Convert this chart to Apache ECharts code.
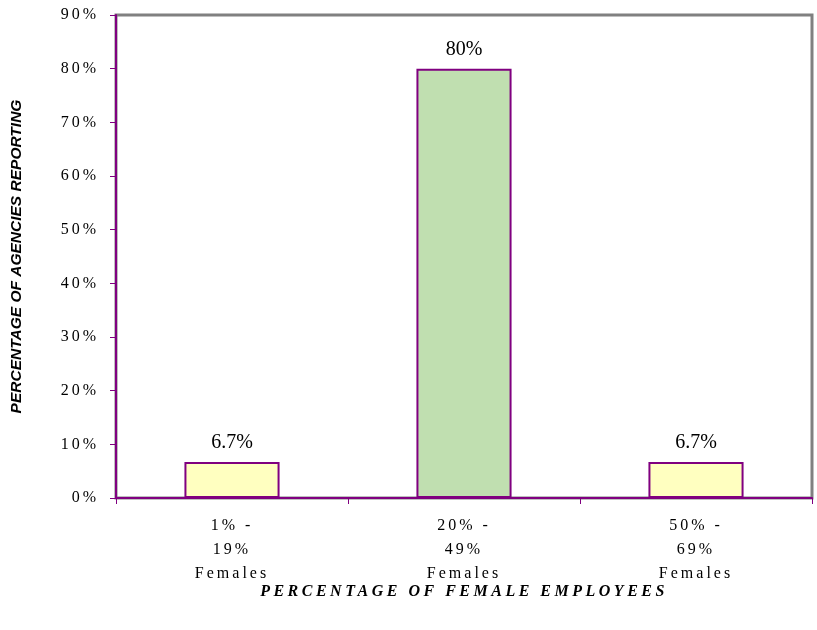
<!DOCTYPE html>
<html>
<head>
<meta charset="utf-8">
<script src="https://cdn.jsdelivr.net/npm/echarts@6/dist/echarts.min.js"></script>
<style>html,body{margin:0;padding:0;background:#fff;}#c{width:817px;height:630px;}</style>
</head>
<body>
<div id="c"></div>
<script>
const categories = ['1% -\n19%\nFemales', '20% -\n49%\nFemales', '50% -\n69%\nFemales'];
const values = [6.7, 80, 6.7];
const valueLabels = ['6.7%', '80%', '6.7%'];
const barColors = ['#FFFFC0', '#C0DFB0', '#FFFFC0'];
const yTicks = { min: 0, max: 90, interval: 10 };

// Letter-spaced serif text (as in the reference) for axis texts
(function () {
  const proto = CanvasRenderingContext2D.prototype;
  const orig = proto.fillText;
  proto.fillText = function (t, x, y, w) {
    const f = this.font || '';
    let ls = '0px';
    if (f.indexOf('Liberation Serif') >= 0 && !/20px/.test(f)) {
      ls = /bold|700/.test(f) ? '3.5px' : '3px';
    }
    if ('letterSpacing' in this) this.letterSpacing = ls;
    const r = w === undefined ? orig.call(this, t, x, y) : orig.call(this, t, x, y, w);
    if ('letterSpacing' in this) this.letterSpacing = '0px';
    return r;
  };
})();

const chart = echarts.init(document.getElementById('c'), null, { renderer: 'canvas' });
const serif = '"Liberation Serif", serif';
chart.setOption({
  animation: false,
  backgroundColor: '#fff',
  grid: { left: 116, right: 5, top: 15, bottom: 132, show: true, borderColor: '#808080', borderWidth: 3, backgroundColor: 'transparent' },
  xAxis: {
    type: 'category',
    data: categories,
    name: 'PERCENTAGE OF FEMALE EMPLOYEES',
    nameLocation: 'middle',
    nameGap: 86,
    nameMoveOverlap: false,
    nameTextStyle: { fontFamily: serif, fontWeight: 'bold', fontStyle: 'italic', fontSize: 16, color: '#000' },
    axisLine: { lineStyle: { color: '#800080', width: 2 } },
    axisTick: { show: true, alignWithLabel: false, length: 6, lineStyle: { color: '#800080', width: 1 } },
    axisLabel: { fontFamily: serif, fontSize: 16, color: '#000', lineHeight: 24, margin: 16 },
    splitLine: { show: false }
  },
  yAxis: {
    type: 'value',
    min: yTicks.min, max: yTicks.max, interval: yTicks.interval,
    name: 'PERCENTAGE OF AGENCIES REPORTING',
    nameLocation: 'middle',
    nameRotate: 90,
    nameGap: 91,
    nameMoveOverlap: false,
    nameTextStyle: { fontFamily: '"Liberation Sans", Arial, sans-serif', fontWeight: 'bold', fontStyle: 'italic', fontSize: 15.5, color: '#000' },
    axisLine: { show: true, lineStyle: { color: '#800080', width: 2 } },
    axisTick: { show: true, length: 6, lineStyle: { color: '#800080', width: 1 } },
    axisLabel: { formatter: '{value}%', fontFamily: serif, fontSize: 16, color: '#000', margin: 17 },
    splitLine: { show: false }
  },
  series: [{
    type: 'bar',
    barWidth: '41%',
    data: values.map((v, i) => ({ value: v, itemStyle: { color: barColors[i] } })),
    itemStyle: { borderColor: '#800080', borderWidth: 2 },
    label: {
      show: true, position: 'top', distance: 9,
      fontFamily: serif, fontSize: 20, color: '#000',
      formatter: p => valueLabels[p.dataIndex]
    }
  }]
});
</script>
</body>
</html>
